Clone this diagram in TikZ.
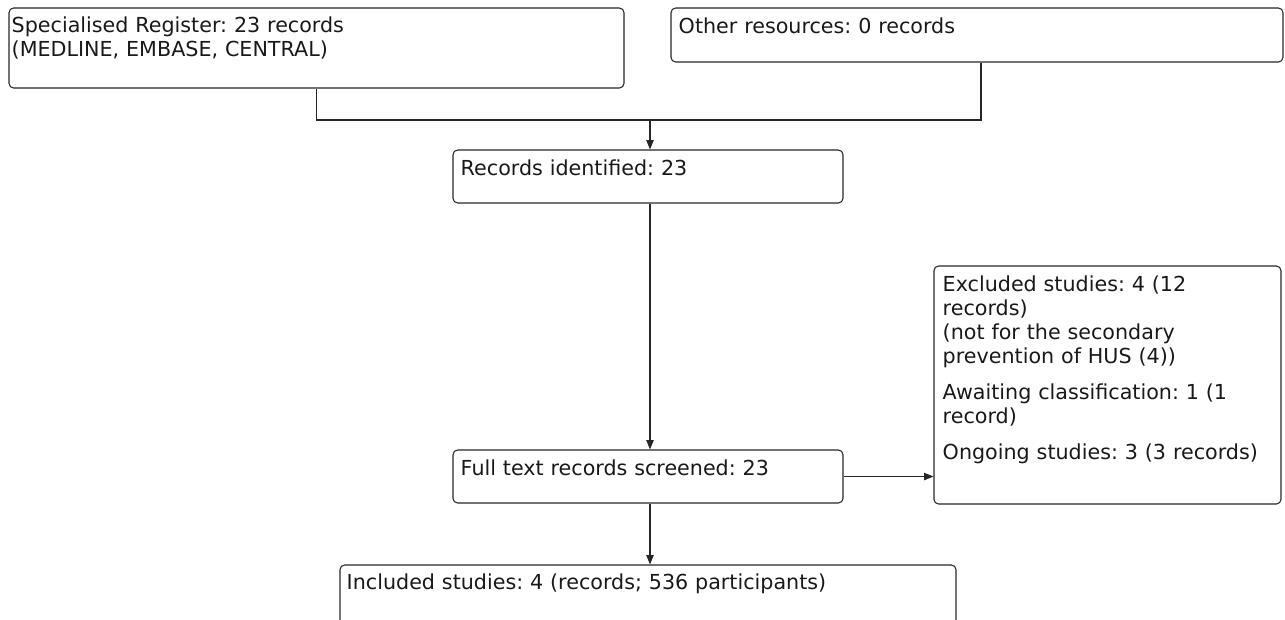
\documentclass[tikz,border=0pt]{standalone}
\usepackage{fontspec}
\setmainfont{DejaVu Sans}
\usetikzlibrary{arrows.meta}
\frenchspacing
\begin{document}
\begin{tikzpicture}[x=0.75pt,y=-0.75pt,
  box/.style={draw=black!85, line width=0.8pt, rounded corners=3.5pt, inner sep=0pt},
  txt/.style={anchor=base west, inner sep=0pt, align=left, text width=#1, font=\frenchspacing\fontsize{15.5}{18}\selectfont, text=black!90},
  arr/.style={draw=black!85, line width=0.8pt, -{Triangle[length=7pt,width=5.5pt]}},
  ln/.style={draw=black!85, line width=0.8pt}]
\useasboundingbox (0,0) rectangle (1285,619);
% boxes
\node[box, minimum width=461.25pt, minimum height=60pt] (b1) at (316.5,48) {};
\node[box, minimum width=459pt, minimum height=40.5pt] (b2) at (977,35) {};
\node[box, minimum width=292.5pt, minimum height=39.75pt] (b3) at (648,176.5) {};
\node[box, minimum width=292.5pt, minimum height=39.75pt] (b4) at (648,476.5) {};
\node[box, minimum width=260.25pt, minimum height=178.5pt] (b5) at (1107.5,385) {};
\node[box, minimum width=462pt, minimum height=45pt] (b6) at (648,595) {};
% texts
\node[txt=450pt] (t1) at ([shift={(3,25)}]b1.north west) {Specialised Register: 23 records\\(MEDLINE, EMBASE, CENTRAL)};
\node[txt=440pt] (t2) at ([shift={(8,26)}]b2.north west) {Other resources: 0 records};
\node[txt=280pt] (t3) at ([shift={(8,26)}]b3.north west) {Records identified: 23};
\node[txt=280pt] (t4) at ([shift={(8,26)}]b4.north west) {Full text records screened: 23};
\node[txt=255pt] (t5) at ([shift={(9,26)}]b5.north west) {Excluded studies: 4 (12\\records)\\(not for the secondary\\prevention of HUS (4))\\[9pt]Awaiting classification: 1 (1\\record)\\[9pt]Ongoing studies: 3 (3 records)};
\node[txt=450pt] (t6) at ([shift={(7,25)}]b6.north west) {Included studies: 4 (records; 536 participants)};
% connectors
\coordinate (j) at (650,120);
\draw[ln] (b1.south) -- (b1.south |- j) -- ([xshift=3pt]b2.south |- j) -- ([xshift=3pt]b2.south);
\draw[arr] (j) -- (j |- b3.north);
\draw[arr] (j |- b3.south) -- (j |- b4.north);
\draw[arr] (b4.east) -- (b4.east -| b5.west);
\draw[arr] (j |- b4.south) -- (j |- b6.north);
\end{tikzpicture}
\end{document}
